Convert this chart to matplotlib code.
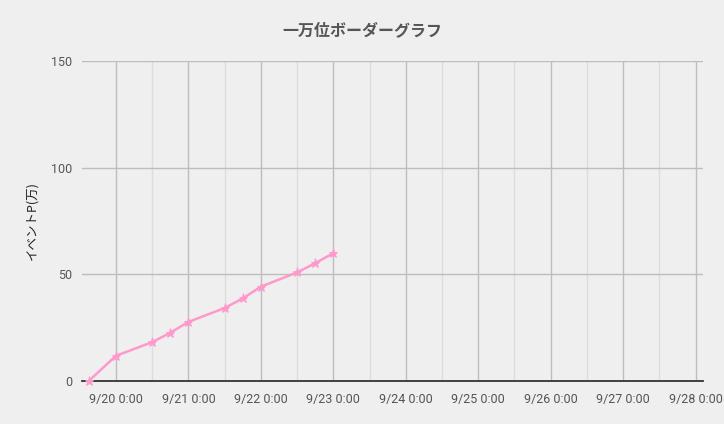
import matplotlib
matplotlib.use("Agg")
import matplotlib.pyplot as plt
import matplotlib.dates as mdates
import pandas as pd

title = "一万位ボーダーグラフ"
ylabel = "イベントP(万)"
times = ["2023-09-19 15:00", "2023-09-20 00:00", "2023-09-20 12:00", "2023-09-20 18:00",
         "2023-09-21 00:00", "2023-09-21 12:00", "2023-09-21 18:00", "2023-09-22 00:00",
         "2023-09-22 12:00", "2023-09-22 18:00", "2023-09-23 00:00"]
values = [0.0, 11.8, 18.2, 22.6, 27.7, 34.2, 38.7, 44.2, 50.9, 55.2, 59.9]
x_start = "2023-09-19 12:40"
x_end = "2023-09-28 02:20"
y_ticks = [0, 50, 100, 150]

t = pd.to_datetime(times)

plt.rcParams['font.family'] = ['Roboto', 'Noto Sans CJK JP', 'DejaVu Sans']
bg = "#efefef"
fig = plt.figure(figsize=(7.24, 4.24), dpi=100, facecolor=bg)
ax = fig.add_axes([81.7/724, 1-381/424, (702.7-81.7)/724, 320/424])
ax.set_facecolor(bg)

ax.plot(t, values, color="#ff99cc", lw=1.8, marker="*", markersize=6.5,
        markeredgewidth=0.6, zorder=3, clip_on=False)

ax.set_xlim(pd.Timestamp(x_start), pd.Timestamp(x_end))
ax.set_ylim(0, 150)
ax.set_yticks(y_ticks)
ax.xaxis.set_major_locator(mdates.DayLocator())
ax.xaxis.set_minor_locator(mdates.HourLocator(byhour=[12]))
ax.xaxis.set_major_formatter(mdates.DateFormatter("%-m/%d %-H:%M"))

ax.grid(which="major", axis="both", color="#bdbdbd", lw=1)
ax.grid(which="minor", axis="x", color="#dcdcdc", lw=1)
ax.set_axisbelow(True)
for s in ["top", "right", "left"]:
    ax.spines[s].set_visible(False)
ax.spines["bottom"].set_color("#333333")
ax.spines["bottom"].set_linewidth(1.3)
ax.spines["bottom"].set_zorder(2.5)

ax.tick_params(axis="both", which="both", length=0, colors="#555555", labelsize=9)
ax.tick_params(axis="x", pad=9)
ax.tick_params(axis="y", pad=7)

ax.set_ylabel(ylabel, fontsize=9, color="#222222", family=['Noto Sans CJK JP', 'DejaVu Sans'], labelpad=9)
fig.text(362/724, 1-30/424, title, ha="center", va="center", fontsize=11.5,
         fontweight="bold", color="#555555", family=['Noto Sans CJK JP', 'DejaVu Sans'])

fig.savefig("out.png", dpi=100, facecolor=bg)
